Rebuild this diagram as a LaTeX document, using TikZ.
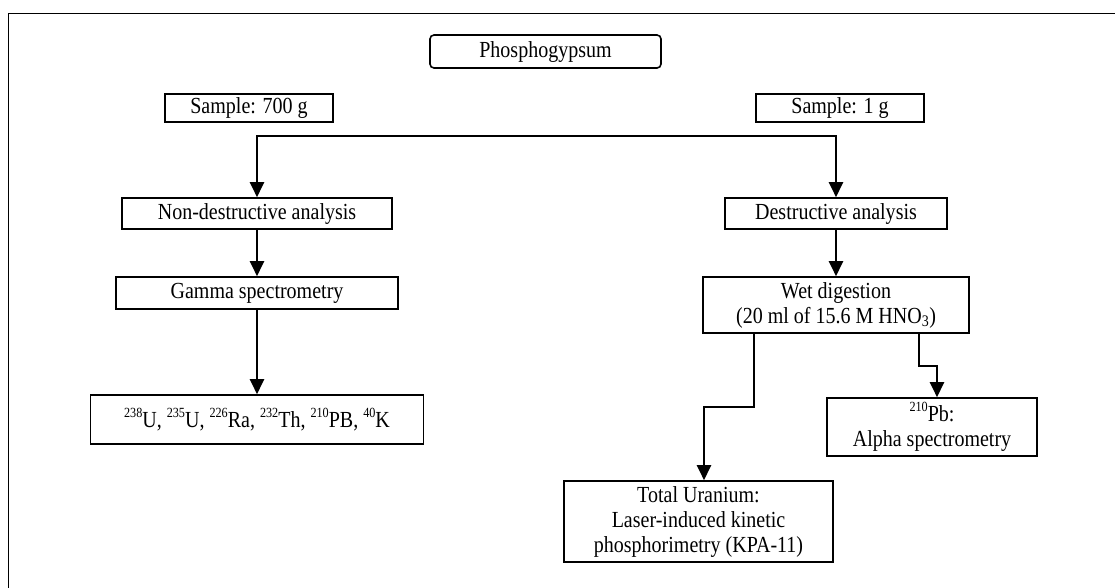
\documentclass[tikz,border=0pt]{standalone}
\usepackage{fontspec}
\setmainfont{Liberation Serif}[FakeStretch=0.87]
\usetikzlibrary{arrows.meta,calc}
\newcommand{\isosup}[1]{\raisebox{0.45em}{\fontsize{14}{14}\selectfont #1}}
\begin{document}
\begin{tikzpicture}[x=1pt,y=-1pt,
  box/.style={draw,line width=1.6pt,inner sep=0pt,align=center,font=\fontsize{23}{25}\selectfont},
  arr/.style={line width=2.2pt,-{Triangle[width=14pt,length=15pt]}}]
\useasboundingbox (0,0) rectangle (1115,587);
\fill[white] (0,0) rectangle (1115,587);
\draw[line width=1.8pt] (8.5,600) -- (8.5,13.5) -- (1130,13.5);
\node[box,rounded corners=4pt,minimum width=231pt,minimum height=33pt] (phos) at (545.5,51.5) {Phosphogypsum};
\node[box,minimum width=168pt,minimum height=28pt] (s700) at (249,108) {Sample: 700 g};
\node[box,minimum width=168pt,minimum height=28pt] (s1) at (840,108) {Sample: 1 g};
\node[box,minimum width=270pt,minimum height=31pt] (nda) at (257,213.5) {Non-destructive analysis};
\node[box,minimum width=222pt,minimum height=31pt] (da) at (836,213.5) {Destructive analysis};
\node[box,minimum width=282pt,minimum height=32pt] (gamma) at (257,293) {Gamma spectrometry};
\node[box,minimum width=333pt,minimum height=49pt] (iso) at (257,419.5) {\isosup{238}U, \isosup{235}U, \isosup{226}Ra, \isosup{232}Th, \isosup{210}PB, \isosup{40}K};
\node[box,minimum width=266pt,minimum height=56pt] (wet) at (836,305) {Wet digestion\\(20 ml of 15.6 M HNO\textsubscript{3})};
\node[box,minimum width=269pt,minimum height=81pt] (tu) at (698.5,521.5) {Total Uranium:\\Laser-induced kinetic\\phosphorimetry (KPA-11)};
\node[box,minimum width=210pt,minimum height=58pt] (pb) at (932,427) {\isosup{210}Pb:\\Alpha spectrometry};
\coordinate (split) at (546,136);
\draw[arr] (split) -| (nda.north);
\draw[arr] (split) -| (da.north);
\draw[arr] (nda.south) -- (gamma.north);
\draw[arr] (gamma.south) -- (iso.north);
\draw[arr] (da.south) -- (wet.north);
\draw[arr] ([xshift=-82pt]wet.south) -- ++(0,73) -| ([xshift=5.5pt]tu.north);
\draw[arr] ([xshift=83pt]wet.south) -- ++(0,32) -| ([xshift=5pt]pb.north);
\end{tikzpicture}
\end{document}
